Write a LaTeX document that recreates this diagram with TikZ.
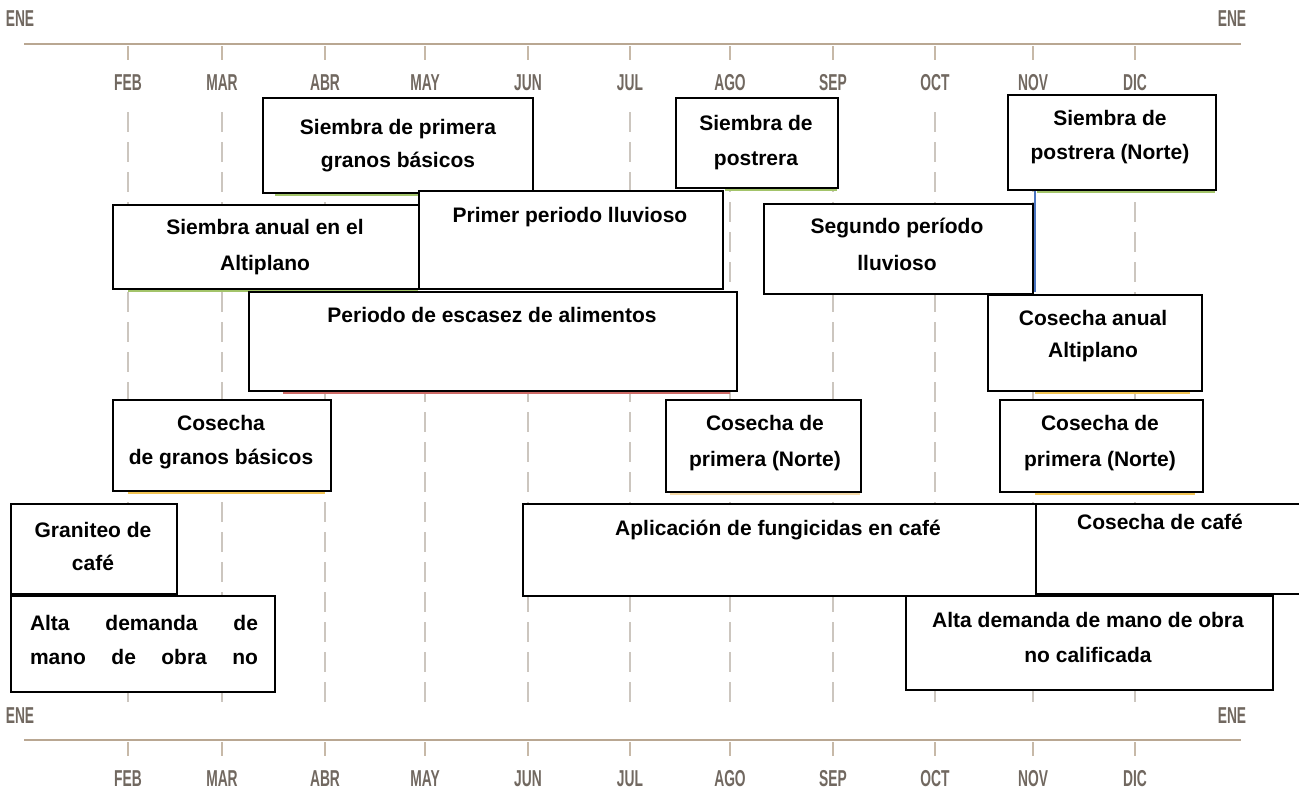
\documentclass[tikz,border=0pt]{standalone}
\usepackage{fontspec}
\setmainfont{Liberation Sans}
\definecolor{axisc}{HTML}{B9A792}
\definecolor{monc}{HTML}{716860}
\definecolor{dashc}{HTML}{CCC6BF}
\definecolor{greenc}{HTML}{A3C46A}
\definecolor{redc}{HTML}{CD6A66}
\definecolor{yellowc}{HTML}{F2C453}
\definecolor{orangec}{HTML}{F5D9A6}
\definecolor{bluec}{HTML}{4A74C0}
\tikzset{
  axisline/.style={draw=axisc, line width=2.4pt},
  tickline/.style={draw=axisc!80!white, line width=1.4pt},
  gridline/.style={draw=dashc, line width=1.5pt, dash pattern=on 20pt off 10pt},
  mon/.style={text=monc, font=\fontsize{23}{23}\selectfont\bfseries, inner sep=0pt, anchor=base},
  box/.style={draw=black, fill=white, line width=1.6pt, inner sep=0pt, anchor=north west},
  txt/.style={font=\fontsize{21}{21}\selectfont\bfseries, inner sep=0pt, anchor=base},
  bar/.style={line width=3pt}
}
\newcommand\MON[4]{\node[mon] (#1) at (#2,#3) {\scalebox{0.6}[1]{#4}};}
\newcommand\BOX[5]{\node[box, minimum width=#4pt, minimum height=#5pt] (#1) at (#2,#3) {};}
\newcommand\TL[4]{\node[txt] (#1) at (#2,#3) {#4};}
\begin{document}
\begin{tikzpicture}[x=1pt,y=-1pt]
\useasboundingbox[fill=white] (0,0) rectangle (1299,793);
% ---- top axis
\coordinate (tl) at (24,44);
\coordinate (tr) at (1241,44);
\draw[axisline] (tl) -- (tr);
\MON{eneTL}{20}{26}{ENE}
\MON{eneTR}{1232}{26}{ENE}
% ---- bottom axis
\coordinate (bl) at (24,740);
\coordinate (br) at (1241,740);
\draw[axisline] (bl) -- (br);
\MON{eneBL}{20}{723}{ENE}
\MON{eneBR}{1232}{723}{ENE}
% months
\foreach \x/\m [count=\i] in {128/FEB,222/MAR,325/ABR,425/MAY,528/JUN,630/JUL,730/AGO,833/SEP,935/OCT,1033/NOV,1135/DIC}{
  \coordinate (tt\i) at (\x,46);
  \coordinate (tb\i) at (\x,60);
  \draw[tickline] (tt\i) -- (tb\i);
  \node[mon] (mt\i) at (\x,90) {\scalebox{0.6}[1]{\m}};
  \coordinate (bt\i) at (\x,742);
  \coordinate (bb\i) at (\x,756);
  \draw[tickline] (bt\i) -- (bb\i);
  \node[mon] (mb\i) at (\x,786) {\scalebox{0.6}[1]{\m}};
  \coordinate (gt\i) at (\x,112);
  \coordinate (gb\i) at (\x,702);
  \draw[gridline] (gt\i) -- (gb\i);
}
% ---- coloured bars
\draw[bar, greenc] (275,194) -- (532,194);
\draw[bar, greenc] (725,189) -- (837,189);
\draw[bar, greenc] (1037,191) -- (1215,191);
\draw[bar, greenc] (128,290) -- (418,290);
\draw[bluec, line width=2pt] (1035,190) -- (1035,292);
\draw[bar, redc] (283,392) -- (730,392);
\draw[bar, yellowc] (1035,392) -- (1190,392);
\draw[bar, yellowc] (128,492) -- (325,492);
\draw[bar, orangec] (670,493) -- (860,493);
\draw[bar, yellowc] (1035,493) -- (1195,493);
% ---- boxes
\BOX{b1}{262}{97}{270}{95}
\TL{t1a}{398}{134}{Siembra de primera}
\TL{t1b}{398}{167}{granos básicos}
\BOX{b2}{675}{97}{162}{90}
\TL{t2a}{756}{130}{Siembra de}
\TL{t2b}{756}{165}{postrera}
\BOX{b3}{1007}{94}{208}{95}
\TL{t3a}{1110}{125}{Siembra de}
\TL{t3b}{1110}{159}{postrera (Norte)}
\BOX{b4}{112}{204}{306}{84}
\TL{t4a}{265}{234}{Siembra anual en el}
\TL{t4b}{265}{270}{Altiplano}
\BOX{b5}{418}{190}{304}{98}
\TL{t5a}{570}{222}{Primer periodo lluvioso}
\BOX{b6}{763}{203}{269}{90}
\TL{t6a}{897}{233}{Segundo período}
\TL{t6b}{897}{270}{lluvioso}
\BOX{b7}{248}{291}{488}{99}
\TL{t7a}{492}{322}{Periodo de escasez de alimentos}
\BOX{b8}{987}{294}{214}{96}
\TL{t8a}{1093}{325}{Cosecha anual}
\TL{t8b}{1093}{357}{Altiplano}
\BOX{b9}{112}{399}{218}{91}
\TL{t9a}{221}{430}{Cosecha}
\TL{t9b}{221}{464}{de granos básicos}
\BOX{b10}{665}{399}{195}{92}
\TL{t10a}{765}{430}{Cosecha de}
\TL{t10b}{765}{466}{primera (Norte)}
\BOX{b11}{999}{399}{203}{92}
\TL{t11a}{1100}{430}{Cosecha de}
\TL{t11b}{1100}{466}{primera (Norte)}
\BOX{b12}{10}{503}{166}{90}
\TL{t12a}{93}{537}{Graniteo de}
\TL{t12b}{93}{570}{café}
\BOX{b13}{10}{595}{264}{96}
\TL{t13a}{144}{630}{\makebox[228pt]{Alta\hfill demanda\hfill de}}
\TL{t13b}{144}{664}{\makebox[228pt]{mano\hfill de\hfill obra\hfill no}}
\BOX{b14}{522}{503}{516}{92}
\TL{t14a}{778}{535}{Aplicación de fungicidas en café}
\BOX{b15}{1035}{503}{266}{90}
\TL{t15a}{1160}{529}{Cosecha de café}
\BOX{b16}{905}{595}{367}{94}
\TL{t16a}{1088}{627}{Alta demanda de mano de obra}
\TL{t16b}{1088}{662}{no calificada}
\end{tikzpicture}
\end{document}
